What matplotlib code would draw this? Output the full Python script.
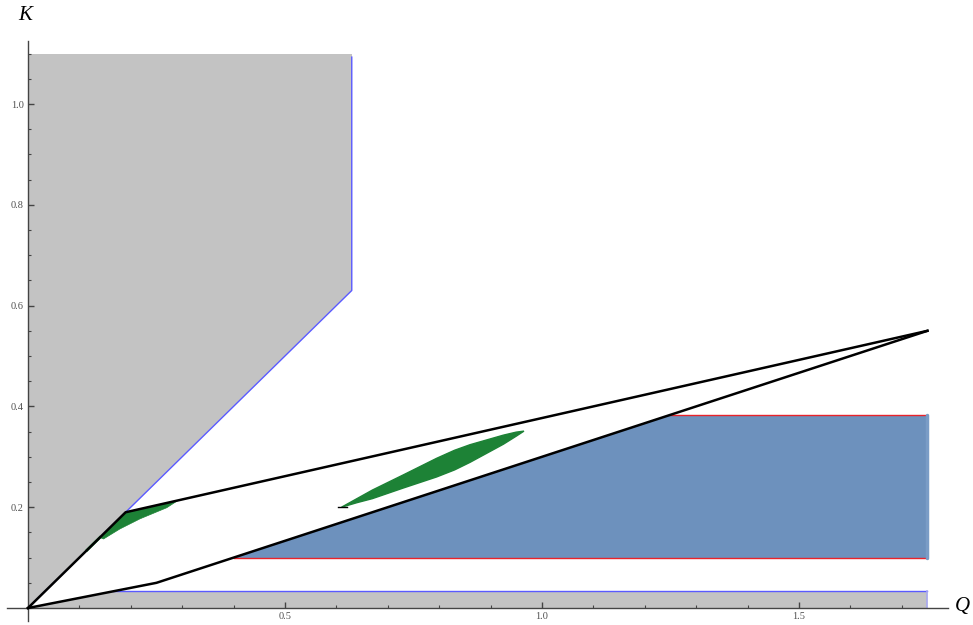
import matplotlib.pyplot as plt
from matplotlib.ticker import MultipleLocator

# boundary of the gray region in the upper left
gray_top_q = [0.0, 0.0, 0.63, 0.63, 0.0]
gray_top_k = [0.0, 1.1, 1.1, 0.63, 0.0]
gray_top_edge_q = [0.63, 0.63, 0.0]
gray_top_edge_k = [1.093, 0.63, 0.0]

# thin gray strip along the Q axis
strip_q = [0.0, 0.165, 1.75, 1.75]
strip_k = [0.0, 0.033, 0.033, 0.0]

# blue region
blue_q = [0.4, 1.75, 1.75, 1.25, 0.4]
blue_k = [0.1, 0.1, 0.383, 0.383, 0.1]

# the two black boundary curves
upper_q = [0.0, 0.19, 1.75]
upper_k = [0.0, 0.19, 0.55]
lower_q = [0.0, 0.25, 1.75]
lower_k = [0.0, 0.05, 0.55]

# green sets
green1_q = [0.14, 0.19, 0.292, 0.27, 0.218, 0.179, 0.147, 0.14]
green1_k = [0.14, 0.19, 0.2135, 0.199, 0.177, 0.157, 0.137, 0.14]
green1_tail_q = [0.115, 0.14]
green1_tail_k = [0.115, 0.14]
green2_q = [0.610, 0.640, 0.670, 0.730, 0.795, 0.830, 0.860, 0.925, 0.950, 0.965,
            0.950, 0.925, 0.860, 0.830, 0.795, 0.730, 0.670, 0.640, 0.610]
green2_k = [0.200, 0.217, 0.234, 0.264, 0.297, 0.313, 0.324, 0.343, 0.349, 0.351,
            0.341, 0.325, 0.289, 0.274, 0.260, 0.238, 0.217, 0.209, 0.200]

gray = "#c3c3c3"
edge_blue = "#5a5aff"
fill_blue = "#6d91bd"
red = "#e8232a"
green = "#1d8236"

fig = plt.figure(figsize=(9.73, 6.25), dpi=100)
ax = fig.add_axes([0.0076, 0.007, 0.9667, 0.9274])
ax.set_xlim(-0.04, 1.79)
ax.set_ylim(-0.025, 1.125)

ax.fill(gray_top_q, gray_top_k, color=gray, lw=0, zorder=1)
ax.plot(gray_top_edge_q, gray_top_edge_k, color=edge_blue, lw=1.0, zorder=2)

ax.fill(strip_q, strip_k, color=gray, lw=0, zorder=1)
ax.plot(strip_q[1:3], strip_k[1:3], color=edge_blue, lw=1.0, zorder=2)
ax.plot(strip_q[2:4], strip_k[2:4], color="#a8a8f0", lw=1.2, zorder=2)

ax.fill(blue_q, blue_k, color=fill_blue, lw=0, zorder=1)
ax.plot(blue_q[0:2], blue_k[0:2], color=red, lw=1.0, zorder=2)
ax.plot(blue_q[2:4], blue_k[2:4], color=red, lw=1.0, zorder=2)
ax.plot(blue_q[1:3], blue_k[1:3], color="#7a9cc6", lw=2.5,
        solid_capstyle="round", zorder=2)

ax.fill(green1_q, green1_k, color=green, lw=0.5, zorder=3)
ax.plot(green1_tail_q, green1_tail_k, color=green, lw=2, zorder=3)
ax.fill(green2_q, green2_k, color=green, ec=green, lw=1.0, zorder=3)
ax.plot([0.603, 0.62], [0.2, 0.2], color="black", lw=1, zorder=3)

ax.plot(upper_q, upper_k, color="black", lw=1.8, zorder=4)
ax.plot(lower_q, lower_k, color="black", lw=1.8, zorder=4)

# Mathematica-like axes crossing at the origin
for side in ["top", "right"]:
    ax.spines[side].set_visible(False)
ax.spines["left"].set_position(("data", 0))
ax.spines["bottom"].set_position(("data", 0))
for side in ["left", "bottom"]:
    ax.spines[side].set_color("#444444")
    ax.spines[side].set_linewidth(1.0)

ax.xaxis.set_minor_locator(MultipleLocator(0.1))
ax.yaxis.set_minor_locator(MultipleLocator(0.05))
ax.set_xticks([0.5, 1.0, 1.5])
ax.set_yticks([0.2, 0.4, 0.6, 0.8, 1.0])
ax.tick_params(which="major", direction="in", length=4, width=1,
               color="#444444", labelsize=7.5, labelcolor="#505050", pad=3)
ax.tick_params(which="minor", direction="in", length=2.5, width=0.8,
               color="#444444")
for lab in ax.get_xticklabels() + ax.get_yticklabels():
    lab.set_family("Liberation Serif")

fig.text(25 / 973, 1 - 16 / 625, "K", family="Liberation Serif",
         style="italic", fontsize=15, ha="center", va="center")
fig.text(962 / 973, 1 - 606 / 625, "Q", family="Liberation Serif",
         style="italic", fontsize=15, ha="center", va="center")

fig.savefig("out.png", dpi=100)
